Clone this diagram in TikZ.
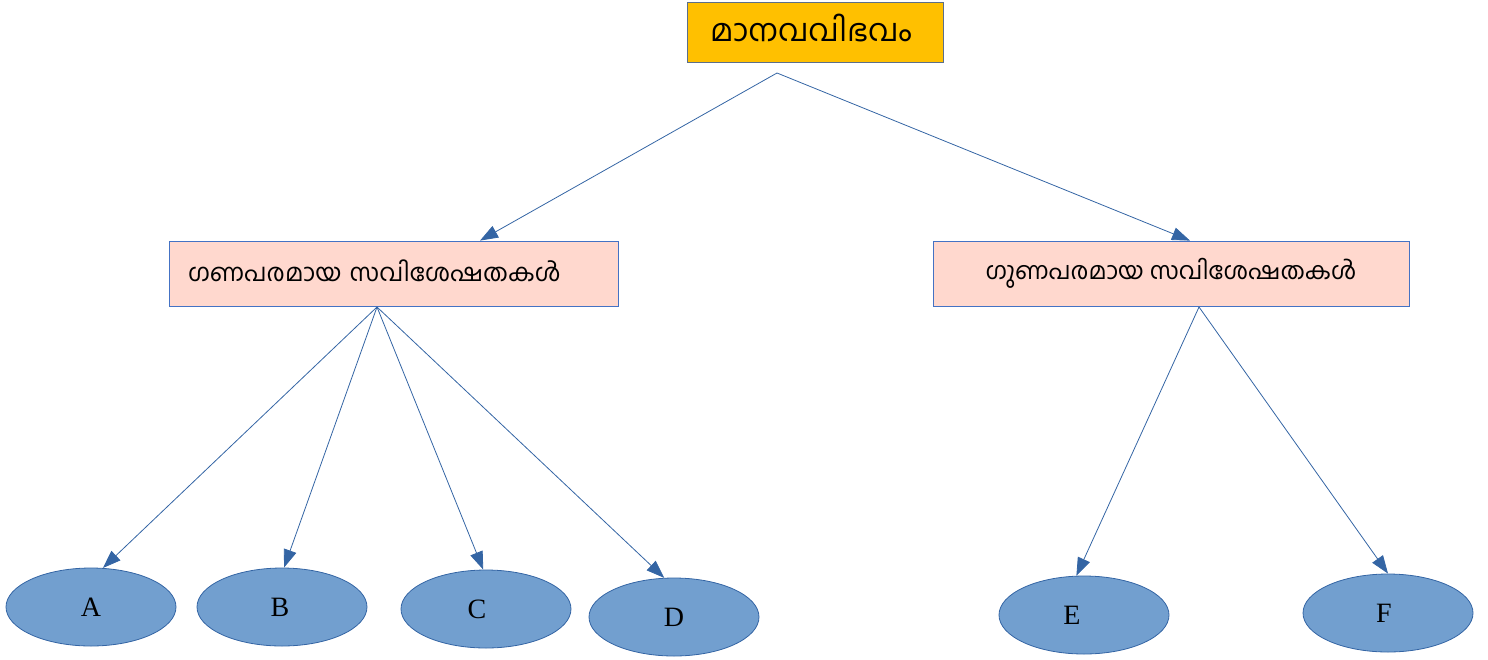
\documentclass[tikz,border=0pt]{standalone}
\usepackage{fontspec}
\setmainfont{Liberation Serif}
\newfontfamily\mlfont[Script=Malayalam]{Hind Kochi}
\usetikzlibrary{shapes.geometric,arrows.meta}
\definecolor{topfill}{HTML}{FFC000}
\definecolor{topline}{HTML}{5B6F8A}
\definecolor{midfill}{HTML}{FFD8CE}
\definecolor{midline}{HTML}{4472C4}
\definecolor{ellfill}{HTML}{729FCF}
\definecolor{ellline}{HTML}{3465A4}
\definecolor{arrowc}{HTML}{3465A4}
\tikzset{
  topbox/.style={draw=topline, fill=topfill, line width=0.8pt, minimum width=256pt, minimum height=60pt, inner sep=0pt, font=\mlfont\fontsize{31}{35}\selectfont},
  midbox/.style={draw=midline, fill=midfill, line width=0.8pt, minimum height=65pt, font=\mlfont\fontsize{24.5}{28}\selectfont},
  leaf/.style={ellipse, draw=ellline, fill=ellfill, line width=0.8pt, minimum width=170pt, minimum height=78pt, inner sep=0pt, font=\fontsize{28}{32}\selectfont},
  conn/.style={draw=arrowc, line width=0.8pt, -{Triangle[length=18pt,width=13pt]}}
}
\begin{document}
\begin{tikzpicture}[x=1pt,y=-1pt]
\useasboundingbox (0,0) rectangle (1488,659);
\node[topbox] (top) at (815,32) {\raisebox{8pt}{മാനവവിഭവം}\hspace*{8pt}};
\node[midbox, minimum width=449pt, text width=411pt, inner xsep=19pt, align=left] (left) at (393.5,273.5) {\raisebox{5pt}{ഗണപരമായ സവിശേഷതകൾ}};
\node[midbox, minimum width=476pt, inner sep=0pt, font=\mlfont\fontsize{24}{28}\selectfont] (right) at (1171,273.5) {\raisebox{5pt}{ഗുണപരമായ സവിശേഷതകൾ}};
\coordinate (tsrc) at (777,73);
\coordinate (lsrc) at (377,307);
\coordinate (rsrc) at (1199,307);
\node[leaf] (A) at (91,607) {A};
\node[leaf] (B) at (282,607) {B\hspace*{4pt}};
\node[leaf] (C) at (486,609) {C\hspace*{18pt}};
\node[leaf] (D) at (674,617) {D};
\node[leaf] (E) at (1084,615) {E\hspace*{24pt}};
\node[leaf] (F) at (1388,613) {F\hspace*{8pt}};
\draw[conn] (tsrc) -- (left.north -| 480,0);
\draw[conn] (tsrc) -- (right.north -| 1190,0);
\draw[conn] (lsrc) -- (A.73);
\draw[conn] (lsrc) -- (B.87);
\draw[conn] (lsrc) -- (C.94);
\draw[conn] (lsrc) -- (D.104);
\draw[conn] (rsrc) -- (E.101);
\draw[conn] (rsrc) -- (F.90);
\end{tikzpicture}
\end{document}
